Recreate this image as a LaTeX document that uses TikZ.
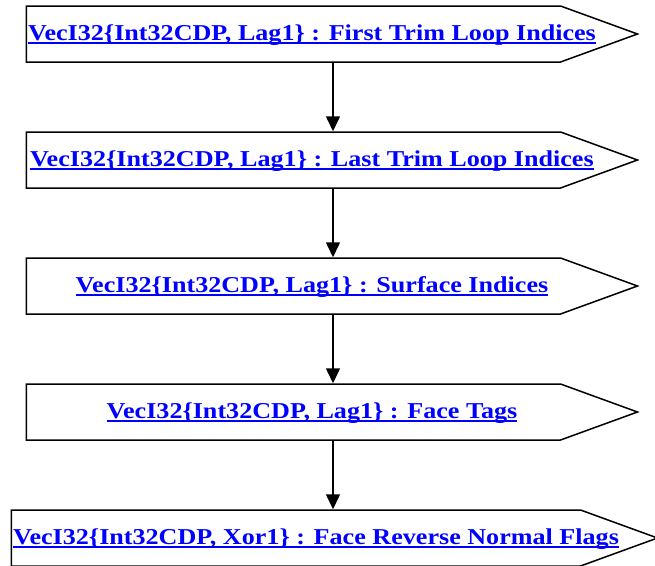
\documentclass[tikz,border=0pt]{standalone}
\usepackage{fontspec}
\setmainfont{Liberation Serif}[FakeStretch=1.15]
\usetikzlibrary{arrows.meta,shapes.symbols}
\newcommand{\ulink}[1]{\setbox0\hbox{#1}\rlap{\rule[-4pt]{\wd0}{2pt}}\box0}

\begin{document}
\begin{tikzpicture}[x=1pt, y=-1pt,
      block/.style={signal, signal to=east, draw, line width=1.5pt, inner sep=0pt,
        minimum width=611pt, minimum height=56pt, signal pointer angle=40},
      vlabel/.style={anchor=base, inner sep=0pt, text=blue,
        font=\fontsize{22.7}{26}\selectfont\bfseries},
      flow/.style={-{Triangle[length=15pt,width=14pt]}, line width=1.5pt}
    ]
    \useasboundingbox (0,0) rectangle (655,565);
    % chain of five vectors
    \node[block] (b1) at (293.5,34) {};
    \node[block] (b2) at (293.5,160) {};
    \node[block] (b3) at (293.5,286) {};
    \node[block] (b4) at (293.5,412) {};
    \node[block, minimum width=646pt] (b5) at (296,538) {};
    \coordinate (mid) at (333,0);
    % labels
    \node[vlabel] (n1) at (312,40) {\ulink{VecI32\{Int32CDP, Lag1\} : First Trim Loop Indices}};
    \node[vlabel] (n2) at (312,166) {\ulink{VecI32\{Int32CDP, Lag1\} : Last Trim Loop Indices}};
    \node[vlabel] (n3) at (312,292) {\ulink{VecI32\{Int32CDP, Lag1\} : Surface Indices}};
    \node[vlabel] (n4) at (312,418) {\ulink{VecI32\{Int32CDP, Lag1\} : Face Tags}};
    \node[vlabel] (n5) at (316,544) {\ulink{VecI32\{Int32CDP, Xor1\} : Face Reverse Normal Flags}};
    % arrows
    \draw[flow] (mid |- b1.south) -- (mid |- b2.north);
    \draw[flow] (mid |- b2.south) -- (mid |- b3.north);
    \draw[flow] (mid |- b3.south) -- (mid |- b4.north);
    \draw[flow] (mid |- b4.south) -- (mid |- b5.north);
  \end{tikzpicture}
\end{document}
